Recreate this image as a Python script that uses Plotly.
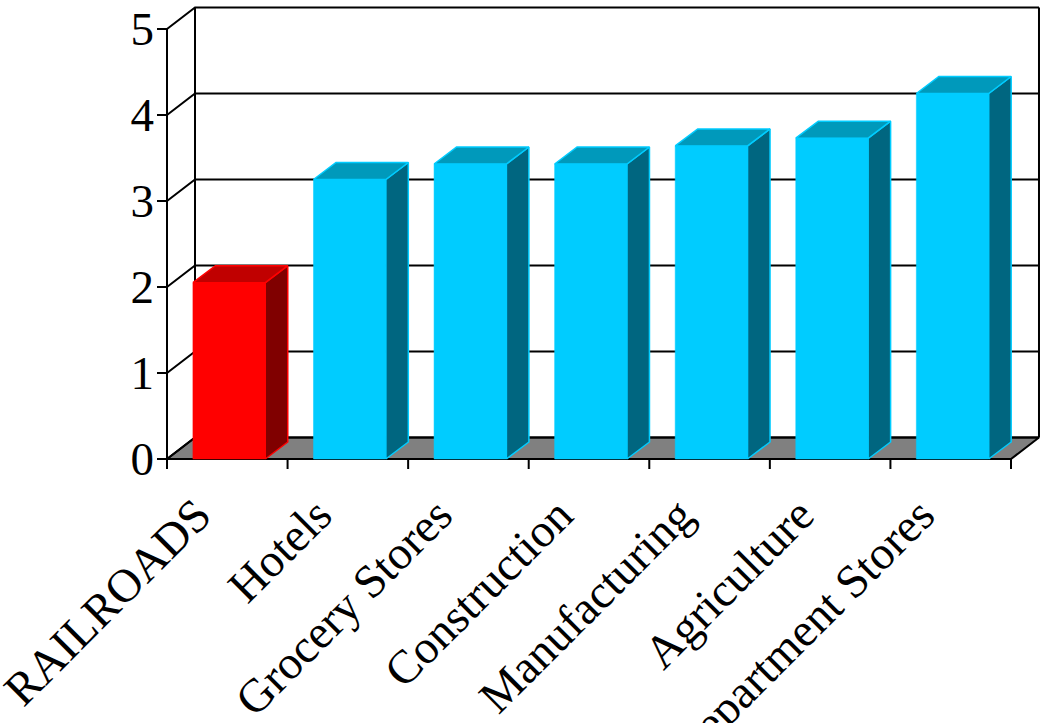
import plotly.graph_objects as go

# ---- data ----
categories = ["RAILROADS", "Hotels", "Grocery Stores", "Construction",
              "Manufacturing", "Agriculture", "Department Stores"]
values = [2.05, 3.25, 3.43, 3.43, 3.64, 3.73, 4.25]
y_ticks = [0, 1, 2, 3, 4, 5]

front_colors = ["#FF0000"] + ["#00CCFF"] * 6
top_colors = ["#C00000"] + ["#0099BB"] * 6
side_colors = ["#800000"] + ["#006680"] * 6

# ---- geometry (pixel scale of the plotting area) ----
W, H = 1041, 723
PX_X0, PX_PER_CAT = 167, 120.57      # pixel of x=0 and pixels per category
PX_Y0, PX_PER_UNIT = 459, 86.0       # pixel of y=0 and pixels per unit
PLOT_L, PLOT_R, PLOT_T, PLOT_B = 155, 1040, 5, 472

x_range = [(PLOT_L - PX_X0) / PX_PER_CAT, (PLOT_R - PX_X0) / PX_PER_CAT]
y_range = [(PX_Y0 - PLOT_B) / PX_PER_UNIT, (PX_Y0 - PLOT_T) / PX_PER_UNIT]

n = len(categories)
ymax = y_ticks[-1]
DX, DY = 28 / PX_PER_CAT, 21.5 / PX_PER_UNIT        # depth of back wall
BDX, BDY = 22.5 / PX_PER_CAT, 17 / PX_PER_UNIT      # depth of each bar
BAR_OFF, BAR_W = 0.215, 0.6
TICK_X = 10 / PX_PER_CAT
TICK_Y = 10 / PX_PER_UNIT
LABEL_SHIFT = 0.25                                  # label anchor within category

fig = go.Figure()


def poly(xs, ys, fill, line_color, line_width):
    fig.add_trace(go.Scatter(
        x=xs + [xs[0]], y=ys + [ys[0]], mode="lines", fill="toself",
        fillcolor=fill, line=dict(color=line_color, width=line_width),
        hoverinfo="skip", showlegend=False))


def lines(xs, ys, color="black", width=2):
    fig.add_trace(go.Scatter(
        x=xs, y=ys, mode="lines", line=dict(color=color, width=width),
        hoverinfo="skip", showlegend=False))


# floor
poly([0, n, n + DX, DX], [0, 0, DY, DY], "#808080", "black", 2)

# back-wall gridlines with their diagonal connectors
gx, gy = [], []
for v in y_ticks:
    gx += [0, DX, n + DX, None]
    gy += [v, v + DY, v + DY, None]
lines(gx, gy)

# back-wall vertical edges
lines([DX, DX, None, n + DX, n + DX], [DY, ymax + DY, None, DY, ymax + DY])

# front value axis with tick marks
ax, ay = [0, 0, None], [0, ymax, None]
for v in y_ticks:
    ax += [-TICK_X, 0, None]
    ay += [v, v, None]
lines(ax, ay)

# front category axis with tick marks at category boundaries
cx, cy = [0, n, None], [0, 0, None]
for i in range(n + 1):
    cx += [i, i, None]
    cy += [0, -TICK_Y, None]
lines(cx, cy)

# 3-D bars
for i, v in enumerate(values):
    x0 = i + BAR_OFF
    x1 = x0 + BAR_W
    poly([x1, x1 + BDX, x1 + BDX, x1], [0, BDY, v + BDY, v],
         side_colors[i], front_colors[i], 1.5)
    poly([x0, x1, x1 + BDX, x0 + BDX], [v, v, v + BDY, v + BDY],
         top_colors[i], front_colors[i], 1.5)
    poly([x0, x1, x1, x0], [0, 0, v, v], front_colors[i], front_colors[i], 0.5)

label_font = dict(family="Liberation Serif, Times New Roman, serif", size=47, color="black")

fig.update_layout(
    width=W, height=H,
    margin=dict(l=PLOT_L, r=W - PLOT_R, t=PLOT_T, b=H - PLOT_B),
    plot_bgcolor="white", paper_bgcolor="white",
    showlegend=False,
    xaxis=dict(range=x_range, showgrid=False, zeroline=False, showline=False,
               ticks="", tickmode="array", automargin=False,
               tickvals=[i + LABEL_SHIFT for i in range(n)], ticktext=categories,
               tickangle=-45, tickfont=label_font, ticklabelstandoff=5,
               ticklabeloverflow="allow", fixedrange=True),
    yaxis=dict(range=y_range, showgrid=False, zeroline=False, showline=False,
               ticks="", tickmode="array", tickvals=y_ticks, automargin=False,
               ticktext=[str(t) for t in y_ticks], tickfont=label_font,
               ticklabeloverflow="allow", fixedrange=True),
)

fig.write_html("out.html")
